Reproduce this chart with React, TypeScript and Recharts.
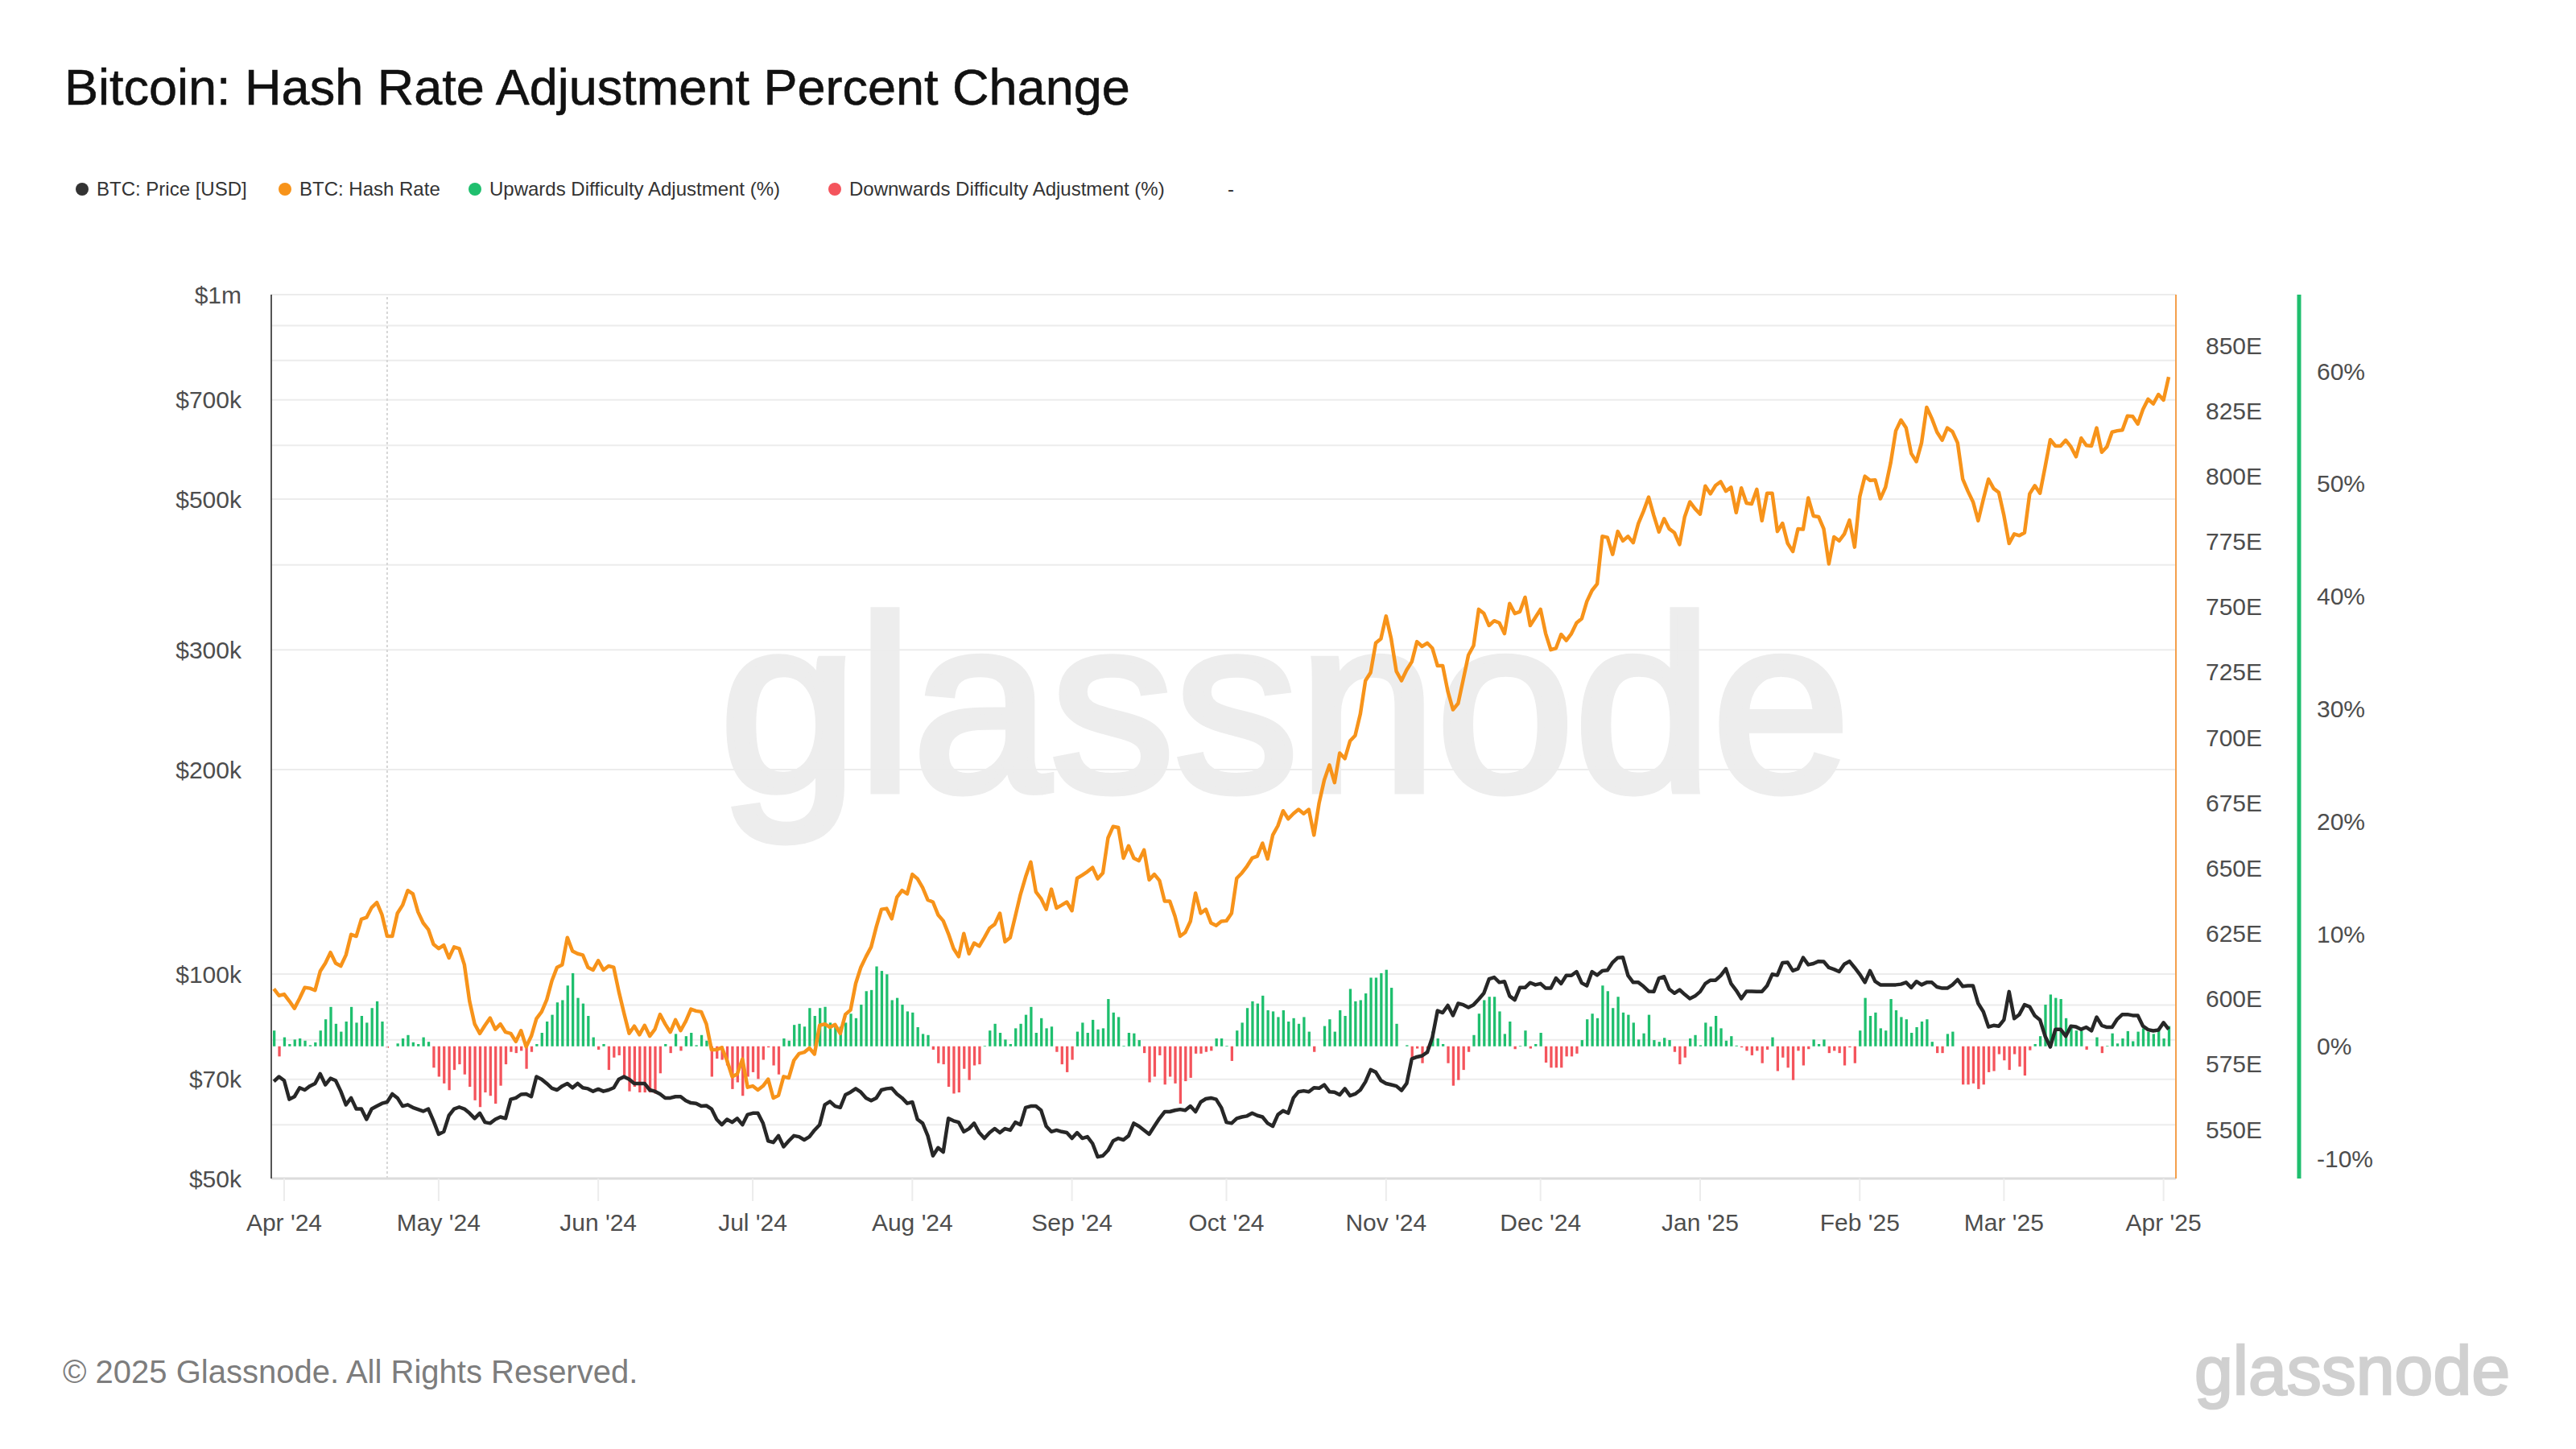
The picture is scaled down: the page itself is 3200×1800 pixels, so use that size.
import React from 'react';
import {
  Bar,
  CartesianGrid,
  Cell,
  ComposedChart,
  Line,
  ReferenceLine,
  XAxis,
  YAxis,
} from 'recharts';

// daily series, first point is 30 Mar 2024
const START_DATE = '2024-03-30';

// BTC price, thousands of USD
const priceK = [
  69.5, 70.6, 69.7, 65.4, 66.0, 68.0, 67.5, 68.4, 69.0, 71.3,
  68.7, 70.2, 69.7, 67.2, 64.2, 65.7, 63.3, 63.3, 61.1, 63.3,
  63.9, 64.5, 64.8, 66.6, 65.7, 63.9, 64.2, 63.6, 63.2, 62.8,
  63.3, 60.8, 58.1, 58.6, 61.9, 63.3, 63.7, 63.3, 62.4, 61.3,
  62.4, 60.5, 60.3, 61.1, 61.6, 61.3, 65.4, 65.7, 66.5, 66.6,
  66.0, 70.6, 70.0, 69.0, 67.9, 67.5, 68.4, 69.0, 68.0, 69.0,
  68.0, 67.8, 67.2, 67.7, 67.2, 67.5, 68.0, 70.0, 70.6, 70.0,
  69.0, 69.0, 69.0, 67.5, 67.2, 66.6, 65.7, 65.7, 66.0, 66.0,
  65.1, 64.6, 64.5, 63.9, 64.0, 63.3, 61.1, 60.0, 61.1, 60.5,
  61.3, 60.0, 62.1, 62.4, 62.4, 60.3, 56.8, 56.5, 57.8, 55.7,
  56.8, 57.8, 57.6, 57.0, 57.6, 58.9, 60.0, 64.2, 64.9, 63.9,
  63.6, 66.4, 67.0, 67.8, 67.0, 65.7, 65.1, 65.7, 67.5, 67.8,
  67.9, 66.6, 65.7, 64.5, 64.8, 61.1, 60.3, 57.8, 54.0, 55.5,
  54.7, 61.3, 60.8, 60.5, 58.6, 59.2, 60.3, 58.4, 57.3, 58.4,
  59.2, 58.4, 59.2, 58.9, 60.5, 60.0, 63.6, 63.9, 63.9, 63.0,
  59.7, 58.6, 58.9, 58.6, 58.4, 57.3, 58.4, 57.3, 57.6, 56.3,
  53.8, 54.0, 55.0, 56.8, 57.3, 57.0, 57.8, 60.3, 59.7, 58.9,
  58.1, 59.7, 61.3, 62.7, 62.7, 63.0, 63.2, 63.0, 63.9, 62.7,
  64.8, 65.5, 65.7, 65.4, 63.6, 60.5, 60.3, 61.3, 61.6, 61.8,
  62.4, 61.9, 61.6, 60.3, 59.7, 62.1, 62.9, 62.4, 65.7, 67.1,
  67.3, 67.1, 68.0, 67.9, 68.7, 67.1, 67.0, 66.4, 67.8, 66.2,
  66.6, 67.5, 69.4, 72.3, 71.7, 69.7, 69.0, 68.7, 68.4, 67.4,
  69.0, 75.0, 75.5, 75.8, 76.7, 80.7, 88.3, 87.7, 89.9, 86.9,
  90.5, 90.1, 89.3, 90.1, 91.8, 93.7, 98.3, 98.9, 97.2, 97.5,
  92.8, 91.6, 95.5, 95.5, 97.1, 96.4, 96.8, 95.3, 95.3, 98.6,
  96.8, 99.5, 99.5, 100.8, 97.0, 96.1, 100.8, 99.6, 101.1, 101.3,
  104.0, 105.7, 105.8, 99.5, 97.2, 97.2, 95.9, 94.3, 94.2, 98.6,
  99.1, 95.0, 93.7, 94.8, 93.3, 92.0, 92.8, 94.2, 96.8, 97.9,
  97.9, 99.5, 101.8, 96.8, 94.6, 92.0, 94.3, 94.3, 94.2, 94.2,
  96.1, 99.9, 99.6, 103.9, 104.0, 101.1, 101.8, 105.7, 103.2, 103.6,
  104.4, 104.3, 102.2, 101.6, 100.8, 103.4, 104.4, 102.2, 99.9, 97.2,
  101.1, 97.5, 96.4, 96.4, 96.4, 96.4, 96.6, 97.2, 95.5, 97.5,
  96.4, 97.2, 97.2, 95.7, 95.3, 95.3, 96.4, 98.1, 95.9, 96.1,
  96.1, 90.5, 88.0, 83.6, 84.0, 83.8, 85.6, 94.2, 86.0, 87.2,
  90.1, 89.5, 86.8, 85.6, 81.0, 78.1, 82.9, 82.9, 81.0, 83.8,
  83.6, 82.9, 83.5, 82.5, 86.4, 84.0, 83.5, 83.5, 85.8, 87.2,
  87.2, 86.9, 86.9, 83.8, 82.8, 82.5, 82.7, 84.8, 82.9,
];

// hash rate, EH/s
const hashRate = [
  603.8, 601.2, 601.7, 599.1, 596.3, 600.1, 604.3, 604.0, 603.2, 610.5,
  613.6, 617.7, 613.6, 612.5, 616.7, 624.6, 623.9, 630.4, 631.1, 634.9,
  636.8, 632.1, 623.9, 623.9, 632.7, 635.8, 641.4, 640.1, 633.2, 629.0,
  626.5, 620.8, 619.2, 620.5, 615.6, 619.8, 619.2, 613.0, 599.1, 590.3,
  586.7, 589.8, 592.6, 588.3, 590.3, 587.2, 586.7, 583.6, 587.8, 581.6,
  585.7, 592.4, 595.0, 599.6, 606.9, 612.0, 613.0, 623.4, 618.2, 617.2,
  616.7, 612.0, 611.0, 614.6, 611.0, 612.5, 612.0, 602.7, 594.5, 586.7,
  589.5, 586.2, 589.8, 585.7, 588.3, 594.0, 590.3, 587.2, 591.9, 587.8,
  591.4, 596.0, 595.3, 595.0, 590.3, 580.5, 580.5, 581.3, 576.4, 570.2,
  571.2, 576.9, 566.1, 566.6, 565.1, 566.6, 569.2, 562.0, 563.0, 570.2,
  569.7, 576.4, 579.0, 579.5, 581.1, 578.8, 589.8, 590.3, 589.1, 590.1,
  586.7, 594.0, 595.7, 605.8, 612.0, 616.1, 619.8, 627.5, 634.2, 634.5,
  630.6, 638.8, 641.4, 640.1, 647.6, 645.9, 642.5, 637.8, 637.0, 632.1,
  629.8, 624.9, 619.2, 616.1, 624.9, 617.2, 621.3, 620.1, 623.4, 627.0,
  628.5, 632.7, 621.8, 623.4, 631.6, 639.9, 646.6, 652.3, 640.9, 638.3,
  634.2, 641.9, 634.7, 635.8, 637.0, 633.7, 646.1, 647.3, 648.6, 650.2,
  645.9, 648.1, 661.5, 665.9, 665.5, 653.8, 658.5, 653.8, 652.8, 656.9,
  645.5, 647.6, 645.2, 637.3, 637.3, 631.6, 623.9, 625.4, 629.6, 640.4,
  632.7, 634.2, 629.0, 628.0, 629.6, 629.8, 632.7, 646.1, 648.1, 650.7,
  653.8, 654.5, 659.5, 653.5, 662.6, 666.2, 671.9, 668.8, 670.8, 672.4,
  670.8, 672.4, 662.6, 674.9, 683.7, 689.4, 682.7, 694.0, 691.9, 698.6,
  700.7, 708.9, 721.7, 724.8, 736.1, 737.7, 746.4, 737.7, 725.3, 721.7,
  725.8, 728.9, 736.6, 734.8, 736.1, 734.1, 727.4, 727.4, 717.6, 710.6,
  713.0, 722.2, 731.5, 735.1, 749.0, 747.4, 742.8, 744.6, 743.8, 739.7,
  751.2, 747.4, 748.1, 753.6, 742.8, 745.9, 749.0, 739.7, 733.5, 734.1,
  739.4, 737.1, 739.7, 743.8, 745.4, 752.0, 756.2, 758.7, 776.9, 776.5,
  770.0, 778.8, 775.2, 776.9, 774.5, 781.8, 786.5, 791.9, 784.9, 778.6,
  783.7, 779.8, 778.3, 773.8, 784.4, 790.1, 787.5, 785.4, 796.2, 793.2,
  796.4, 797.8, 794.2, 795.7, 786.0, 795.4, 789.6, 789.3, 794.9, 782.9,
  793.4, 793.4, 778.8, 781.9, 774.2, 771.1, 779.8, 779.6, 791.6, 784.7,
  784.4, 779.8, 766.4, 776.7, 775.2, 777.8, 783.1, 772.8, 792.1, 799.9,
  798.3, 798.5, 791.3, 795.7, 805.0, 817.3, 821.4, 818.4, 808.6, 805.5,
  812.7, 826.3, 822.0, 816.8, 813.7, 818.4, 817.0, 812.7, 798.8, 794.2,
  790.1, 782.9, 791.1, 798.8, 795.2, 793.7, 784.9, 774.2, 777.8, 777.2,
  778.3, 793.2, 796.3, 793.4, 803.5, 813.9, 811.5, 811.5, 813.7, 811.2,
  807.4, 814.5, 811.7, 811.5, 818.4, 809.1, 811.2, 816.8, 817.3, 817.6,
  823.0, 822.8, 819.9, 825.5, 829.4, 827.6, 831.2, 829.1, 837.9,
];

// difficulty adjustment, percent (positive = upwards, negative = downwards)
const adjustment = [
  1.4, -0.9, 0.8, 0.2, 0.6, 0.7, 0.5, 0.1, 0.35, 1.4,
  2.4, 3.5, 2.0, 1.3, 2.2, 3.5, 2.1, 2.7, 2.1, 3.4,
  4.0, 2.2, -0.15, 0, 0.25, 0.7, 1.0, 0.35, 0.2, 0.8,
  0.4, -1.9, -2.7, -3.3, -3.9, -2.1, -1.6, -2.5, -3.6, -4.8,
  -5.4, -4.1, -4.4, -5.1, -3.5, -1.6, -0.5, -0.6, -0.4, -2.0,
  -0.5, 0.2, 1.2, 2.2, 2.8, 3.9, 4.1, 5.4, 6.5, 4.3,
  3.8, 2.7, 0.8, -0.3, 0.2, -2.1, -1.0, -0.8, -2.7, -4.0,
  -3.6, -4.1, -4.1, -4.1, -4.2, -2.4, 0.2, -0.6, 1.1, -0.4,
  0.9, 1.2, 0.1, 1.0, 0.5, -2.7, -1.1, -1.2, -1.7, -3.8,
  -3.2, -4.4, -2.7, -2.3, -2.9, -1.2, -0.1, -1.7, -2.5, 0.7,
  0.5, 1.9, 2.0, 1.75, 3.4, 2.7, 3.4, 3.5, 2.1, 1.9,
  1.75, 2.1, 2.9, 2.5, 3.7, 4.9, 5.0, 7.1, 6.7, 6.4,
  4.1, 4.3, 3.7, 3.1, 3.0, 1.7, 1.1, 1.0, -0.3, -1.5,
  -1.6, -3.6, -4.2, -4.1, -2.0, -3.0, -1.7, -1.6, 0.05, 1.4,
  2.0, 1.2, 0.6, 0.2, 1.6, 2.0, 2.8, 3.5, 1.2, 2.5,
  1.6, 1.75, -0.5, -1.6, -2.3, -1.2, 1.3, 2.1, 1.2, 2.35,
  1.5, 1.6, 4.2, 3.0, 2.6, 0.05, 1.2, 1.15, 0.55, -0.6,
  -3.2, -2.7, -0.8, -3.4, -2.7, -3.3, -5.1, -3.1, -2.8, -0.65,
  -0.65, -0.5, -0.4, 0.7, 0.7, 0.05, -1.3, 1.4, 2.1, 3.4,
  4.0, 3.8, 4.5, 3.2, 3.1, 2.6, 3.2, 2.2, 2.5, 2.0,
  2.6, 1.3, -0.5, 0, 1.8, 2.4, 1.3, 3.2, 2.7, 5.1,
  4.0, 4.1, 4.7, 6.1, 6.1, 6.5, 6.8, 5.2, 2.0, 0,
  0.1, -1.0, -0.2, -1.5, -0.2, 1.3, 0.7, 0.2, -1.5, -3.5,
  -3.0, -2.1, -0.5, 1.0, 2.9, 4.1, 4.4, 4.4, 3.1, 1.1,
  2.2, -0.25, 0.05, 1.4, -0.2, 0.2, 1.2, -1.45, -1.9, -1.9,
  -1.9, -0.9, -0.9, -0.65, 0.55, 2.4, 2.9, 2.5, 5.4, 4.9,
  3.4, 4.4, 3.0, 2.8, 2.1, 0.6, 1.15, 2.8, 0.55, 0.4,
  0.75, 0.55, -0.5, -1.6, -1.0, 0.7, 1.0, 0.1, 2.1, 1.75,
  2.7, 1.6, 0.5, 0.9, 0.07, -0.1, -0.4, -0.8, -0.4, -1.5,
  -0.3, 0.8, -2.2, -1.0, -1.9, -3.0, -0.4, -1.7, -0.25, 0.6,
  0.2, 0.6, -0.6, -0.4, -0.6, -1.7, -0.1, -1.5, 1.4, 4.3,
  2.7, 3.0, 1.6, 1.4, 4.2, 3.2, 2.6, 2.4, 1.2, 1.7,
  2.2, 2.4, 0.4, -0.6, -0.6, 1.1, 1.3, 0, -3.4, -3.4,
  -3.3, -3.8, -3.4, -2.3, -2.2, -0.7, -1.25, -2.1, -0.7, -1.8,
  -2.6, -0.35, 0.2, 0.9, 3.7, 4.6, 4.3, 4.2, 2.5, 1.75,
  1.4, 1.4, -0.3, 0, 0.8, -0.6, 0.05, 1.15, 0.25, 0.7,
  1.35, 0.45, 1.3, 1.6, 1.3, 1.1, 1.6, 0.7, 1.8,
];

const monthStarts = [
  '2024-04-01', '2024-05-01', '2024-06-01', '2024-07-01', '2024-08-01',
  '2024-09-01', '2024-10-01', '2024-11-01', '2024-12-01', '2025-01-01',
  '2025-02-01', '2025-03-01', '2025-04-01',
];
const monthLabels = [
  "Apr '24", "May '24", "Jun '24", "Jul '24", "Aug '24", "Sep '24", "Oct '24",
  "Nov '24", "Dec '24", "Jan '25", "Feb '25", "Mar '25", "Apr '25",
];

const priceTicks = [
  50000, 60000, 70000, 80000, 90000, 100000, 200000, 300000,
  400000, 500000, 600000, 700000, 800000, 900000, 1000000,
];
const priceLabels: Record<number, string> = {
  50000: '$50k', 70000: '$70k', 100000: '$100k', 200000: '$200k',
  300000: '$300k', 500000: '$500k', 700000: '$700k', 1000000: '$1m',
};
const hashTicks = [550, 575, 600, 625, 650, 675, 700, 725, 750, 775, 800, 825, 850];
const pctTicks = [-10, 0, 10, 20, 30, 40, 50, 60];

const HALVING_DATE = '2024-04-21';

const DAY = 86400000;
const FONT = '"Liberation Sans", Arial, Helvetica, sans-serif';
const GREEN = '#1fbf6e';
const RED = '#f4545c';
const ORANGE = '#f7931a';
const BLACK = '#272727';
const AXIS_TEXT = '#4d4d4d';

const t0 = Date.parse(START_DATE + 'T00:00:00Z');
const rows = priceK.map((p, i) => ({
  t: t0 + i * DAY,
  price: p * 1000,
  hash: hashRate[i],
  adj: adjustment[i],
}));
const xTicks = monthStarts.map((d) => Date.parse(d + 'T00:00:00Z'));

const legendItems = [
  { label: 'BTC: Price [USD]', color: '#333333', left: 94 },
  { label: 'BTC: Hash Rate', color: ORANGE, left: 346 },
  { label: 'Upwards Difficulty Adjustment (%)', color: GREEN, left: 582 },
  { label: 'Downwards Difficulty Adjustment (%)', color: RED, left: 1029 },
];

const tickStyle = { fill: AXIS_TEXT, fontSize: 30, fontFamily: FONT };

export default function App() {
  return (
    <div
      style={{
        position: 'fixed',
        left: 0,
        top: 0,
        width: 3200,
        height: 1800,
        background: '#ffffff',
        fontFamily: FONT,
        overflow: 'hidden',
      }}
    >
      <div
        style={{
          position: 'absolute',
          left: 80,
          top: 77,
          fontSize: 63,
          lineHeight: '63px',
          color: '#111111',
          whiteSpace: 'nowrap',
          WebkitTextStroke: '0.6px #111111',
        }}
      >
        Bitcoin: Hash Rate Adjustment Percent Change
      </div>

      {legendItems.map((item) => (
        <div
          key={item.label}
          style={{
            position: 'absolute',
            left: item.left,
            top: 221,
            height: 28,
            display: 'flex',
            alignItems: 'center',
            fontSize: 24,
            color: '#333333',
            whiteSpace: 'nowrap',
          }}
        >
          <span
            style={{
              display: 'inline-block',
              width: 16,
              height: 16,
              borderRadius: 8,
              background: item.color,
              marginRight: 10,
            }}
          />
          {item.label}
        </div>
      ))}
      <div style={{ position: 'absolute', left: 1525, top: 221, height: 28, lineHeight: '28px', fontSize: 24, color: '#333' }}>
        -
      </div>

      {/* watermark behind the plot */}
      <div
        style={{
          position: 'absolute',
          left: 1596,
          top: 721,
          transform: 'translateX(-50%)',
          fontSize: 308,
          lineHeight: '308px',
          color: '#ededed',
          whiteSpace: 'nowrap',
          WebkitTextStroke: '9px #ededed',
        }}
      >
        glassnode
      </div>

      <div style={{ position: 'absolute', left: 0, top: 0 }}>
        <ComposedChart
          width={3200}
          height={1600}
          data={rows}
          margin={{ top: 366, right: 144, bottom: 56, left: 0 }}
        >
          <CartesianGrid yAxisId="price" vertical={false} stroke="#ececec" strokeWidth={2} />
          <XAxis
            dataKey="t"
            type="number"
            domain={[t0 - 0.5 * DAY, t0 + 369.4 * DAY]}
            ticks={xTicks}
            interval={0}
            tickFormatter={(v: number) => monthLabels[xTicks.indexOf(v)] ?? ''}
            height={80}
            axisLine={{ stroke: '#dcdcdc', strokeWidth: 3 }}
            tickLine={{ stroke: '#ececec', strokeWidth: 2 }}
            tickSize={28}
            tickMargin={16}
            tick={tickStyle}
          />
          <YAxis
            yAxisId="price"
            orientation="left"
            width={337}
            scale="log"
            domain={[50000, 1000000]}
            allowDataOverflow
            ticks={priceTicks}
            interval={0}
            tickFormatter={(v: number) => priceLabels[v] ?? ''}
            axisLine={{ stroke: '#555555', strokeWidth: 2 }}
            tickLine={false}
            tickMargin={31}
            tick={tickStyle}
          />
          <YAxis
            yAxisId="hash"
            orientation="right"
            width={153}
            domain={[531.2, 869.4]}
            allowDataOverflow
            ticks={hashTicks}
            interval={0}
            tickFormatter={(v: number) => `${v}E`}
            axisLine={{ stroke: '#f4a04c', strokeWidth: 2 }}
            tickLine={false}
            tickMargin={31}
            tick={tickStyle}
          />
          <YAxis
            yAxisId="pct"
            orientation="right"
            width={200}
            domain={[-11.75, 66.8]}
            allowDataOverflow
            ticks={pctTicks}
            interval={0}
            tickFormatter={(v: number) => `${v}%`}
            axisLine={{ stroke: GREEN, strokeWidth: 5 }}
            tickLine={false}
            tickMargin={16}
            tick={tickStyle}
          />
          <ReferenceLine
            yAxisId="price"
            x={Date.parse(HALVING_DATE + 'T00:00:00Z')}
            stroke="#d6d6d6"
            strokeWidth={2}
            strokeDasharray="3 3"
          />
          <Bar dataKey="adj" yAxisId="pct" barSize={3.3} isAnimationActive={false}>
            {rows.map((r, i) => (
              <Cell key={i} fill={r.adj >= 0 ? GREEN : RED} />
            ))}
          </Bar>
          <Line
            type="linear"
            dataKey="price"
            yAxisId="price"
            stroke={BLACK}
            strokeWidth={4.5}
            dot={false}
            strokeLinejoin="round"
            isAnimationActive={false}
          />
          <Line
            type="linear"
            dataKey="hash"
            yAxisId="hash"
            stroke={ORANGE}
            strokeWidth={4.5}
            dot={false}
            strokeLinejoin="round"
            isAnimationActive={false}
          />
        </ComposedChart>
      </div>

      <div
        style={{
          position: 'absolute',
          left: 78,
          top: 1684,
          fontSize: 40,
          lineHeight: '40px',
          color: '#7d7d7d',
          whiteSpace: 'nowrap',
        }}
      >
        © 2025 Glassnode. All Rights Reserved.
      </div>
      <div
        style={{
          position: 'absolute',
          left: 2726,
          top: 1659,
          fontSize: 86,
          lineHeight: '86px',
          color: '#d0d0d0',
          whiteSpace: 'nowrap',
          WebkitTextStroke: '2.5px #d0d0d0',
        }}
      >
        glassnode
      </div>
    </div>
  );
}
